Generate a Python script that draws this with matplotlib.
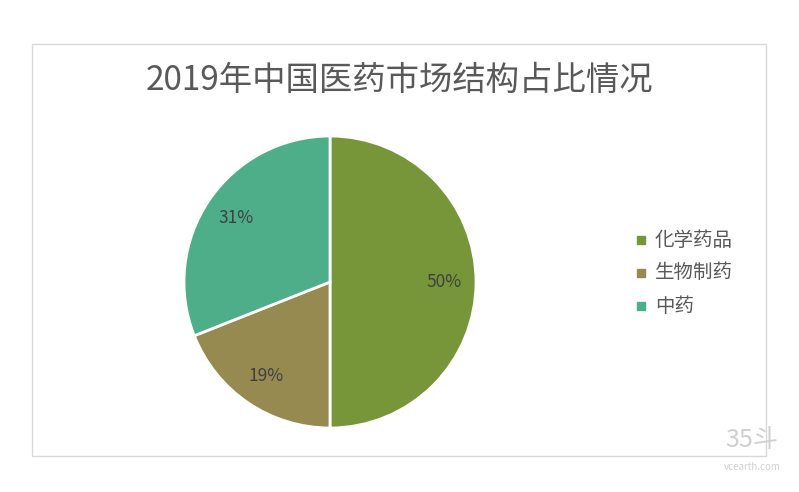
import matplotlib
matplotlib.use("Agg")
import matplotlib.pyplot as plt
from matplotlib.patches import Rectangle
from matplotlib import font_manager as fm

cjk = None
for f in fm.fontManager.ttflist:
    if "CJK" in f.name:
        cjk = f.name
        if "SC" in f.name:
            break
plt.rcParams["font.family"] = [cjk or "DejaVu Sans", "DejaVu Sans"]

title = "2019年中国医药市场结构占比情况"
categories = ["化学药品", "生物制药", "中药"]
values = [50, 19, 31]
colors = ["#77963A", "#968A51", "#4DAE89"]

fig = plt.figure(figsize=(7.99, 4.92), dpi=100)
fig.patches.append(Rectangle((32/799, 1-456/492), (766-32)/799, (456-44)/492,
                             transform=fig.transFigure, fill=False, edgecolor="#D9D9D9", lw=1))
ax = fig.add_axes([(330-146)/799, (492-282-146)/492, 292/799, 292/492])
ax.pie(values, colors=colors, startangle=90, counterclock=False,
       autopct="%d%%", pctdistance=0.78,
       wedgeprops=dict(edgecolor="white", linewidth=2),
       textprops=dict(color="#404040", fontsize=12.5))
ax.set_xlim(-1, 1); ax.set_ylim(-1, 1)
ax.set_aspect("equal")
fig.text(399/799, 1-80/492, title, ha="center", va="center", fontsize=24, color="#595959")
for i, (c, col) in enumerate(zip(categories, colors)):
    y = 1 - (240 + i*33)/492
    fig.patches.append(Rectangle((637/799, y-4/492), 8/799, 8/492, transform=fig.transFigure, color=col))
    fig.text(655/799, y, c, va="center", fontsize=14, color="#595959")
fig.text(752/799, 1-440/492, "35斗", ha="center", va="center", fontsize=18, color="#D0D0D0")
fig.text(752/799, 1-467/492, "vcearth.com", ha="center", va="center", fontsize=7, color="#D0D0D0")
fig.savefig("out.png", dpi=100, facecolor="white")
